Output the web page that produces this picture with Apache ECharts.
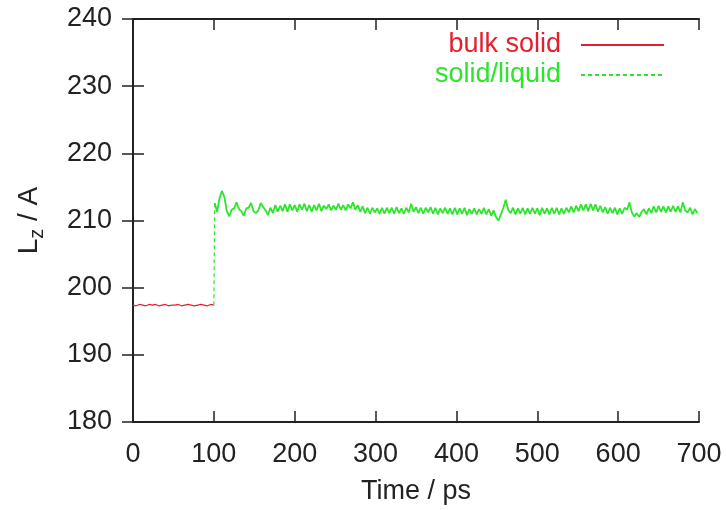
<!DOCTYPE html>
<html>
<head>
<meta charset="utf-8">
<script src="https://cdn.jsdelivr.net/npm/echarts@6/dist/echarts.min.js"></script>
<style>
  html, body { margin: 0; padding: 0; background: #fff; }
  #chart { width: 726px; height: 510px; }
</style>
</head>
<body>
<div id="chart"></div>
<script>
// bulk solid: one sample every 4 ps from 0 to 100
const bulkStart = 0, bulkStep = 4;
const bulkValues = [
  197.4, 197.3, 197.5, 197.4, 197.3, 197.5, 197.4, 197.5, 197.3, 197.4,
  197.5, 197.3, 197.4, 197.4, 197.5, 197.3, 197.4, 197.5, 197.4, 197.3,
  197.4, 197.5, 197.4, 197.3, 197.5, 197.4
];

// solid/liquid: jump at 100 ps, then one sample every 3 ps from 101 to 698
const jumpTime = 100, jumpValue = 197.4;
const liqStart = 101, liqStep = 3;
const liqValues = [
  212.6, 211.3, 213.3, 214.4, 213.5, 211.4, 210.6, 211.6, 211.8, 212.7,
  211.7, 211.4, 210.7, 211.8, 211.9, 212.6, 211.4, 211.1, 211.5, 212.6,
  212.0, 211.5, 210.8, 211.9, 211.1, 212.3, 211.3, 212.2, 211.4, 212.4,
  211.3, 212.4, 211.5, 212.3, 211.3, 212.4, 211.6, 212.5, 211.4, 212.3,
  211.3, 212.3, 211.5, 212.5, 211.4, 212.2, 211.7, 212.4, 211.5, 212.2,
  211.6, 212.5, 211.6, 212.3, 211.5, 212.4, 211.8, 212.7, 211.6, 212.3,
  211.3, 212.1, 211.1, 211.9, 211.0, 211.9, 211.2, 211.8, 211.0, 211.9,
  211.0, 211.9, 211.1, 211.9, 211.0, 212.0, 211.1, 211.8, 211.0, 211.9,
  211.2, 212.5, 211.3, 212.0, 211.1, 211.9, 211.0, 211.9, 211.2, 212.0,
  211.0, 211.9, 210.9, 211.8, 211.1, 211.9, 211.0, 211.8, 210.9, 211.9,
  210.9, 211.8, 211.0, 211.9, 210.8, 211.7, 211.0, 211.8, 210.9, 211.7,
  211.0, 211.9, 210.9, 211.7, 210.7, 211.5, 210.5, 210.0, 210.9, 211.9,
  213.1, 211.6, 211.1, 211.9, 210.9, 211.8, 211.0, 211.9, 210.9, 211.8,
  211.0, 211.9, 211.0, 211.8, 210.8, 211.9, 211.0, 211.8, 210.9, 211.9,
  211.0, 211.9, 210.9, 211.8, 211.0, 211.9, 211.2, 212.1, 211.2, 212.2,
  211.4, 212.4, 211.5, 212.4, 211.4, 212.5, 211.5, 212.4, 211.3, 212.2,
  211.2, 212.0, 211.0, 211.9, 211.1, 211.9, 210.9, 211.8, 211.0, 211.9,
  211.6, 212.7, 211.2, 210.6, 211.1, 210.5, 211.3, 211.7, 210.9, 211.8,
  211.1, 212.1, 211.2, 212.2, 211.3, 212.1, 211.2, 212.1, 211.3, 212.2,
  211.3, 212.1, 211.2, 212.7, 211.5, 211.2, 211.9, 210.9, 211.7, 211.1
];

const xMin = 0, xMax = 700, xInterval = 100;
const yMin = 180, yMax = 240, yInterval = 10;

const RED = '#e4202e';
const GREEN = '#2be62b';
const INK = '#222';
const FONT = '"Liberation Sans", Arial, sans-serif';

const bulkData = bulkValues.map((v, i) => [bulkStart + i * bulkStep, v]);
const liqData = liqValues.map((v, i) => [liqStart + i * liqStep, v]);
const jumpData = [[jumpTime, jumpValue], liqData[0]];

const chart = echarts.init(document.getElementById('chart'));

const tick = { show: true, inside: true, length: 11, lineStyle: { color: INK, width: 1.5 } };
const line = { show: true, lineStyle: { color: INK, width: 2 } };

chart.setOption({
  animation: false,
  backgroundColor: '#fff',
  grid: { left: 133, right: 27, top: 19, bottom: 88 },
  legend: {
    orient: 'vertical',
    right: 61,
    top: 30,
    padding: 0,
    itemGap: 0,
    itemWidth: 83,
    itemHeight: 14,
    align: 'right',
    itemStyle: { opacity: 0 },
    formatter: name => name + '  ',
    textStyle: { fontFamily: FONT, fontSize: 27, lineHeight: 30 },
    data: [
      { name: 'bulk solid', textStyle: { color: RED } },
      { name: 'solid/liquid', textStyle: { color: GREEN } }
    ]
  },
  xAxis: [
    {
      type: 'value', min: xMin, max: xMax, interval: xInterval,
      name: 'Time / ps', nameLocation: 'middle', nameGap: 56,
      nameTextStyle: { fontFamily: FONT, fontSize: 27, color: INK },
      axisLine: line, axisTick: tick, splitLine: { show: false },
      axisLabel: { fontFamily: FONT, fontSize: 27, color: INK, margin: 19 }
    },
    {
      type: 'value', position: 'top', min: xMin, max: xMax, interval: xInterval,
      axisLine: line, axisTick: tick, splitLine: { show: false },
      axisLabel: { show: false }
    }
  ],
  yAxis: [
    {
      type: 'value', min: yMin, max: yMax, interval: yInterval,
      name: '{a|L}{b|z}{a| / A}', nameLocation: 'middle', nameGap: 86,
      nameTextStyle: {
        fontFamily: FONT, fontSize: 28, color: INK,
        rich: {
          a: { fontFamily: FONT, fontSize: 28, color: INK, lineHeight: 36 },
          b: { fontFamily: FONT, fontSize: 20, color: INK, lineHeight: 18, verticalAlign: 'bottom' }
        }
      },
      axisLine: line, axisTick: tick, splitLine: { show: false },
      axisLabel: { fontFamily: FONT, fontSize: 27, color: INK, margin: 21 }
    },
    {
      type: 'value', position: 'right', min: yMin, max: yMax, interval: yInterval,
      axisLine: line, axisTick: tick, splitLine: { show: false },
      axisLabel: { show: false }
    }
  ],
  series: [
    {
      name: 'bulk solid', type: 'line', symbol: 'none', data: bulkData,
      lineStyle: { color: RED, width: 1.2 }, itemStyle: { color: RED }
    },
    {
      name: 'solid/liquid', type: 'line', symbol: 'none', data: jumpData,
      lineStyle: { color: GREEN, width: 1.2, type: [4, 3] }, itemStyle: { color: GREEN }
    },
    {
      name: 'solid/liquid', type: 'line', symbol: 'none', data: liqData,
      lineStyle: { color: GREEN, width: 1.8 }, itemStyle: { color: GREEN }
    }
  ]
});
</script>
</body>
</html>
